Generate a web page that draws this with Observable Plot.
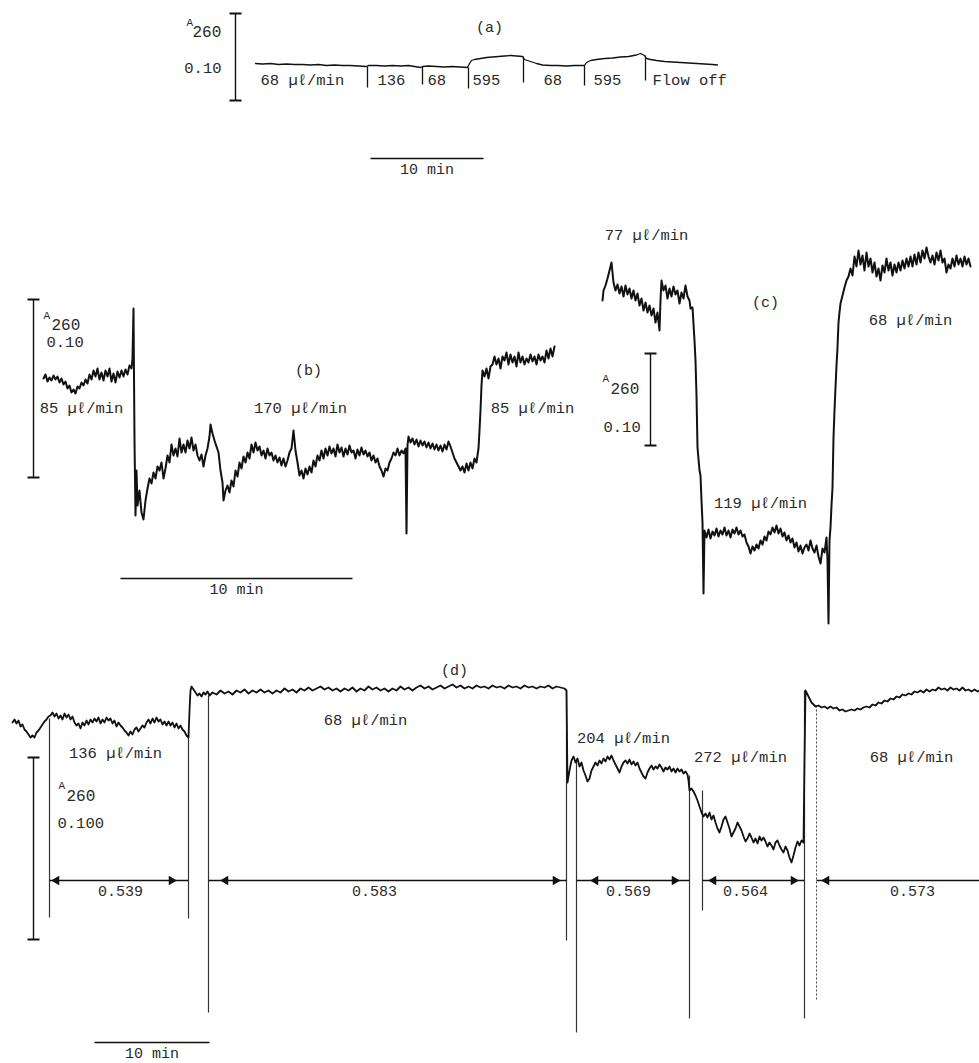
<!DOCTYPE html>
<html>
<head>
<meta charset="utf-8">
<script src="https://cdn.jsdelivr.net/npm/d3@7"></script>
<script src="https://cdn.jsdelivr.net/npm/@observablehq/plot@0.6"></script>
<style>
  html, body { margin: 0; padding: 0; background: #fff; }
  #chart svg { display: block; }
</style>
</head>
<body>
<div id="chart"></div>
<script>
// ---------- Recorder traces: [time position, A260 deflection] (figure units) ----------
const traceA = [[255,63],[262,63.5],[270,63],[278,64],[286,63.5],[294,64],[302,64],[310,64.5],[318,64],[326,65],[334,64.5],[342,65],[350,65],[358,65.5],[366,66],[368,65],[376,65],[384,65.5],[392,65],[400,65.5],[408,65],[414,66],[420,67],[422,66],[428,65.5],[436,66],[444,66.5],[452,66],[460,66.5],[467,67],[469,63],[471,60],[474,59],[480,58],[486,57],[492,56.5],[498,56],[504,55.5],[510,55],[516,55.5],[522,56],[524,59],[530,61],[536,63],[542,64.5],[550,65],[558,65],[566,65.5],[574,65],[580,65],[584,65],[586,62],[590,60],[596,59],[604,58],[612,57.5],[620,56.5],[628,56],[636,54.5],[640,53],[644,55],[646,58],[650,59],[656,60],[664,61],[672,61.5],[680,62],[688,62.5],[696,63],[704,63.5],[712,64],[717,64.5]];

const traceB = [[43,378],[45,374],[47,381],[49,377],[51,380],[53,375],[55,379],[57,376],[59,382],[61,378],[63,384],[65,381],[67,388],[69,385],[71,392],[73,389],[75,393],[77,386],[79,388],[81,382],[83,385],[85,379],[87,383],[89,374],[91,379],[93,370],[95,376],[97,368],[99,379],[101,372],[103,380],[105,370],[107,376],[109,368],[111,381],[113,373],[115,382],[117,371],[119,377],[121,370],[123,376],[125,369],[127,374],[129,365],[131,368],[132,358],[133,308],[134,440],[135,515],[136,470],[137,505],[139,490],[141,512],[143,519],[145,500],[147,488],[149,478],[151,483],[153,472],[155,478],[157,466],[159,470],[161,462],[163,478],[165,468],[167,455],[169,462],[171,444],[173,455],[175,448],[177,456],[179,438],[181,452],[183,444],[185,452],[187,440],[189,448],[191,437],[193,450],[195,444],[197,455],[199,460],[201,454],[203,466],[205,455],[207,448],[209,436],[210,424],[212,433],[214,440],[216,446],[218,452],[220,470],[222,482],[223,500],[225,490],[227,485],[229,492],[231,480],[233,486],[235,470],[237,476],[239,462],[241,468],[243,456],[245,462],[247,452],[249,458],[251,444],[253,452],[255,442],[257,450],[259,446],[261,455],[263,450],[265,458],[267,448],[269,455],[271,452],[273,460],[275,455],[277,462],[279,457],[281,465],[283,458],[285,466],[287,460],[289,452],[291,448],[293,430],[295,450],[297,462],[299,475],[301,470],[303,478],[305,468],[307,474],[309,466],[311,472],[313,460],[315,466],[317,455],[319,460],[321,450],[323,458],[325,448],[327,455],[329,446],[331,453],[333,448],[335,456],[337,444],[339,452],[341,447],[343,456],[345,448],[347,454],[349,445],[351,452],[353,450],[355,458],[357,449],[359,455],[361,447],[363,454],[365,450],[367,456],[369,452],[371,460],[373,455],[375,462],[377,458],[379,466],[381,470],[383,476],[385,468],[387,470],[389,462],[391,458],[393,452],[395,455],[397,448],[399,455],[401,450],[403,453],[405,448],[406,533],[407,445],[408,436],[410,442],[412,438],[414,444],[416,439],[418,446],[420,440],[422,445],[424,441],[426,447],[428,442],[430,448],[432,443],[434,449],[436,444],[438,450],[440,445],[442,451],[444,444],[446,449],[448,441],[450,446],[452,452],[454,458],[456,462],[458,466],[460,470],[462,466],[464,472],[466,463],[468,470],[470,462],[472,468],[474,458],[476,462],[478,448],[479,430],[480,410],[481,385],[482,370],[484,376],[486,368],[488,378],[490,366],[492,364],[494,356],[496,364],[498,358],[500,368],[502,356],[504,360],[506,352],[508,364],[510,354],[512,362],[514,356],[516,366],[518,352],[520,362],[522,356],[524,364],[526,358],[528,362],[530,354],[532,361],[534,356],[536,364],[538,354],[540,360],[542,356],[544,362],[546,350],[548,358],[550,348],[552,356],[554,346]];

const traceC = [[602,300],[603,290],[605,285],[607,278],[609,270],[611,262],[612,272],[613,282],[615,290],[617,284],[619,293],[621,286],[623,296],[625,285],[627,294],[629,288],[631,298],[633,290],[635,300],[637,293],[639,305],[641,298],[643,310],[645,302],[647,312],[649,305],[651,315],[653,308],[655,322],[657,312],[659,330],[660,300],[661,280],[663,290],[665,285],[667,298],[669,288],[671,296],[673,286],[675,294],[677,290],[679,303],[681,292],[683,298],[685,285],[687,296],[689,300],[690,308],[692,307],[694,340],[695,360],[696,395],[697,447],[699,470],[700,475],[701,500],[702,522],[703,593],[704,530],[706,537],[708,529],[710,538],[712,531],[714,535],[716,528],[718,536],[720,530],[722,534],[724,527],[726,535],[728,530],[730,537],[732,529],[734,533],[736,527],[738,534],[740,530],[742,536],[744,534],[746,542],[748,546],[750,553],[752,546],[754,550],[756,544],[758,548],[760,540],[762,544],[764,536],[766,540],[768,531],[770,534],[772,527],[774,532],[776,525],[778,533],[780,528],[782,536],[784,532],[786,540],[788,535],[790,542],[792,538],[794,547],[796,542],[798,551],[800,545],[802,553],[804,547],[806,544],[808,550],[810,540],[812,548],[814,552],[816,545],[818,556],[820,563],[822,548],[824,552],[826,537],[827,560],[828,623],[829,540],[830,527],[831,505],[832,487],[833,437],[834,410],[835,387],[836,365],[837,347],[838,322],[839,312],[840,303],[842,295],[844,287],[846,280],[848,276],[850,268],[852,275],[854,256],[856,266],[858,250],[860,264],[862,255],[864,270],[866,252],[868,266],[870,258],[872,272],[874,262],[876,276],[878,268],[880,280],[882,265],[884,272],[886,258],[888,270],[890,262],[892,275],[894,264],[896,272],[898,262],[900,270],[902,260],[904,268],[906,258],[908,266],[910,256],[912,266],[914,254],[916,264],[918,252],[920,262],[922,250],[924,258],[926,247],[928,256],[930,262],[932,255],[934,264],[936,252],[938,260],[940,250],[942,262],[944,258],[946,272],[948,264],[950,268],[952,258],[954,266],[956,255],[958,264],[960,258],[962,266],[964,256],[966,264],[968,258],[970,266]];

const traceD = [[12,722],[14,719],[16,723],[18,720],[20,726],[22,724],[24,729],[26,731],[28,734],[30,737],[32,735],[34,737],[36,732],[38,730],[40,727],[42,724],[44,721],[46,719],[48,716],[50,715],[52,712],[54,716],[56,713],[58,718],[60,715],[62,719],[64,713],[66,717],[68,714],[70,719],[72,716],[74,722],[76,725],[78,723],[80,728],[82,722],[84,725],[86,720],[88,724],[90,719],[92,722],[94,718],[96,721],[98,717],[100,723],[102,719],[104,722],[106,717],[108,720],[110,718],[112,723],[114,720],[116,726],[118,722],[120,725],[122,727],[124,730],[126,732],[128,735],[130,731],[132,734],[134,729],[136,727],[138,731],[140,728],[142,725],[144,727],[146,722],[148,719],[150,723],[152,718],[154,722],[156,717],[158,721],[160,719],[162,724],[164,721],[166,725],[168,721],[170,725],[172,722],[174,727],[176,723],[178,728],[180,725],[182,729],[184,731],[186,735],[188,737],[189,710],[190,690],[191,686],[193,689],[195,692],[197,695],[199,693],[201,696],[203,692],[205,694],[207,691],[209,695],[212,692],[216,694],[220,690],[224,693],[228,691],[232,694],[236,690],[240,692],[244,689],[248,693],[252,690],[256,692],[260,689],[264,692],[268,690],[272,693],[276,690],[280,692],[284,688],[288,691],[292,689],[296,692],[300,688],[304,690],[308,687],[312,690],[316,688],[320,686],[324,689],[328,687],[332,690],[336,688],[340,691],[344,688],[348,690],[352,687],[356,691],[360,688],[364,690],[368,686],[372,689],[376,687],[380,690],[384,688],[388,691],[392,688],[396,690],[400,686],[404,689],[408,687],[412,690],[416,687],[420,685],[424,688],[428,686],[432,689],[436,687],[440,685],[444,688],[448,686],[452,684],[456,687],[460,685],[464,688],[468,686],[472,688],[476,685],[480,687],[484,686],[488,688],[492,685],[496,687],[500,686],[504,688],[508,685],[512,687],[516,686],[520,688],[524,685],[528,687],[532,686],[536,688],[540,686],[544,687],[548,685],[552,688],[556,686],[560,687],[564,688],[566,690],[567,782],[569,770],[571,760],[573,756],[575,762],[577,758],[579,766],[581,762],[583,770],[585,775],[587,781],[589,778],[591,770],[593,766],[595,762],[597,765],[599,760],[601,763],[603,758],[605,761],[607,756],[609,759],[611,755],[613,760],[615,764],[617,768],[619,772],[621,766],[623,762],[625,760],[627,763],[629,759],[631,764],[633,761],[635,765],[637,762],[639,768],[641,772],[643,776],[645,778],[647,772],[649,768],[651,765],[653,769],[655,766],[657,768],[659,764],[661,767],[663,771],[665,767],[667,769],[669,766],[671,771],[673,768],[675,772],[677,768],[679,771],[681,769],[683,773],[685,771],[687,774],[688,780],[689,790],[691,788],[693,791],[695,795],[697,800],[699,806],[701,812],[703,816],[705,813],[707,817],[709,812],[711,819],[713,815],[715,822],[717,828],[719,832],[721,826],[723,819],[725,816],[727,822],[729,828],[731,836],[733,832],[735,828],[737,822],[739,826],[741,830],[743,836],[745,841],[747,838],[749,833],[751,837],[753,842],[755,838],[757,843],[759,836],[761,840],[763,837],[765,841],[767,846],[769,842],[771,845],[773,849],[775,842],[777,840],[779,845],[781,849],[783,852],[785,846],[787,850],[789,857],[791,862],[793,855],[795,847],[797,841],[799,845],[801,840],[803,842],[804,760],[805,690],[807,694],[809,698],[811,702],[813,704],[815,706],[818,705],[821,707],[824,706],[827,708],[830,706],[833,708],[836,707],[839,710],[842,709],[845,711],[848,710],[851,709],[854,710],[857,708],[860,709],[863,707],[866,706],[869,707],[872,704],[875,705],[878,702],[881,703],[884,700],[887,701],[890,698],[893,699],[896,696],[899,697],[902,694],[905,695],[908,693],[911,694],[914,691],[917,692],[920,690],[923,692],[926,689],[929,691],[932,689],[935,690],[938,687],[941,689],[944,688],[947,690],[950,687],[953,689],[956,688],[959,690],[962,687],[965,690],[968,689],[971,691],[974,689],[977,691],[979,690]];

// flow-change marks [time, top, bottom]
const marksA = [[367,66,87],[422,66,84],[468,67,88],[523,56,82],[584,65,85],[645,55,80]];
const marksD = [[49,718,917],[188,736,918],[208,695,1012],[566,690,940],[576,760,1032],[689,775,1018],[702,790,910],[804,690,1018]];
const marksDDotted = [[816,705,1000]];

// A260 = 0.10 scale brackets [x, top, bottom]
const brackets = [[235,13,100],[33,299,477],[650,353,445],[33,757,939]];
// 10 min time bars [x1, x2, y]
const timeBars = [[370,483,158],[120,352,578],[94,209,1042]];

// Measured values in (d): spans and labels
const spanD = [[49,188],[208,566],[576,689],[702,804],[816,979]];
const spanLabels = ["0.539","0.583","0.569","0.564","0.573"];
const spanLabelX = [120,374,628,745,912];
const headsLeft = [56,225,595,713,826];
const headsRight = [171,555,674,793];
const spanY = 880;

// Flow-rate labels [text, x, y]
const flowLabelsA = [
  ["68 µℓ/min",260,80],["136",377,80],["68",427,80],["595",472,80],
  ["68",543,80],["595",593,80],["Flow off",652,80]
];
const flowLabels = [
  ["85 µℓ/min",81,408],["170 µℓ/min",300,408],["85 µℓ/min",532,408],
  ["77 µℓ/min",646,235],["68 µℓ/min",910,320],["119 µℓ/min",760,503],
  ["136 µℓ/min",115,753],["68 µℓ/min",365,720],["204 µℓ/min",623,738],
  ["272 µℓ/min",740,757],["68 µℓ/min",911,757]
];
const panelLabels = [["(a)",489,27],["(b)",308,370],["(c)",765,302],["(d)",454,670]];
// axis unit labels: "A" superscript, "260", "0.10"
const unitA = [[186,22],[43,315],[602,378],[58,785]];
const unit260 = [[192,31],[51,324],[610,388],[66,795]];
const unitValA = [["0.10",221,68]];
const unitVal = [["0.10",46,342],["0.10",603,427],["0.100",57,823]];

const FONT = "Liberation Mono, DejaVu Sans Mono, monospace";
const INK = "#111";
const TXT = "#2a2a2a";

const line = (data, w) => Plot.line(data, {x: d => d[0], y: d => d[1], stroke: INK, strokeWidth: w, strokeLinejoin: "round"});
const vlinks = (data, opts) => Plot.link(data, {x1: d => d[0], x2: d => d[0], y1: d => d[1], y2: d => d[2], ...opts});

const chart = Plot.plot({
  width: 979,
  height: 1063,
  margin: 0,
  style: {background: "#fff"},
  x: {domain: [0, 979], axis: null},
  y: {domain: [0, 1063], reverse: true, axis: null},
  marks: [
    // flow-change marks
    vlinks(marksA, {stroke: INK, strokeWidth: 1.3}),
    vlinks(marksD, {stroke: "#333", strokeWidth: 1.2}),
    vlinks(marksDDotted, {stroke: "#444", strokeWidth: 1, strokeDasharray: "2,2"}),
    // traces
    line(traceA, 1.3),
    line(traceB, 2),
    line(traceC, 2),
    line(traceD, 1.8),
    // scale brackets
    vlinks(brackets, {stroke: INK, strokeWidth: 1.4}),
    Plot.link(brackets, {x1: d => d[0] - 6, x2: d => d[0] + 6, y1: d => d[1], y2: d => d[1], stroke: INK, strokeWidth: 2}),
    Plot.link(brackets, {x1: d => d[0] - 6, x2: d => d[0] + 6, y1: d => d[2], y2: d => d[2], stroke: INK, strokeWidth: 2}),
    // time bars
    Plot.link(timeBars, {x1: d => d[0], x2: d => d[1], y1: d => d[2], y2: d => d[2], stroke: INK, strokeWidth: 1.3}),
    Plot.text(timeBars, {x: d => (d[0] + d[1]) / 2, y: d => d[2] + 11, text: () => "10 min", fontFamily: FONT, fontSize: 15, fill: TXT}),
    // measurement spans in (d)
    Plot.link(spanD, {x1: d => d[0], x2: d => d[1], y1: spanY, y2: spanY, stroke: INK, strokeWidth: 1.3}),
    Plot.dot(headsLeft, {x: d => d, y: spanY, symbol: "triangle", rotate: -90, r: 3.5, fill: INK, stroke: "none"}),
    Plot.dot(headsRight, {x: d => d, y: spanY, symbol: "triangle", rotate: 90, r: 3.5, fill: INK, stroke: "none"}),
    Plot.text(spanLabels, {x: (d, i) => spanLabelX[i], y: spanY + 11, text: d => d, fontFamily: FONT, fontSize: 15, fill: TXT}),
    // labels
    Plot.text(flowLabelsA, {x: d => d[1], y: d => d[2], text: d => d[0], textAnchor: "start", fontFamily: FONT, fontSize: 15.5, fill: TXT}),
    Plot.text(flowLabels, {x: d => d[1], y: d => d[2], text: d => d[0], textAnchor: "middle", fontFamily: FONT, fontSize: 15.5, fill: TXT}),
    Plot.text(panelLabels, {x: d => d[1], y: d => d[2], text: d => d[0], fontFamily: FONT, fontSize: 15, fill: TXT}),
    Plot.text(unitA, {x: d => d[0], y: d => d[1], text: () => "A", textAnchor: "start", fontFamily: FONT, fontSize: 11, fill: TXT}),
    Plot.text(unit260, {x: d => d[0], y: d => d[1], text: () => "260", textAnchor: "start", fontFamily: FONT, fontSize: 16, fill: TXT}),
    Plot.text(unitValA, {x: d => d[1], y: d => d[2], text: d => d[0], textAnchor: "end", fontFamily: FONT, fontSize: 15.5, fill: TXT}),
    Plot.text(unitVal, {x: d => d[1], y: d => d[2], text: d => d[0], textAnchor: "start", fontFamily: FONT, fontSize: 15.5, fill: TXT})
  ]
});
document.getElementById("chart").appendChild(chart);
</script>
</body>
</html>
